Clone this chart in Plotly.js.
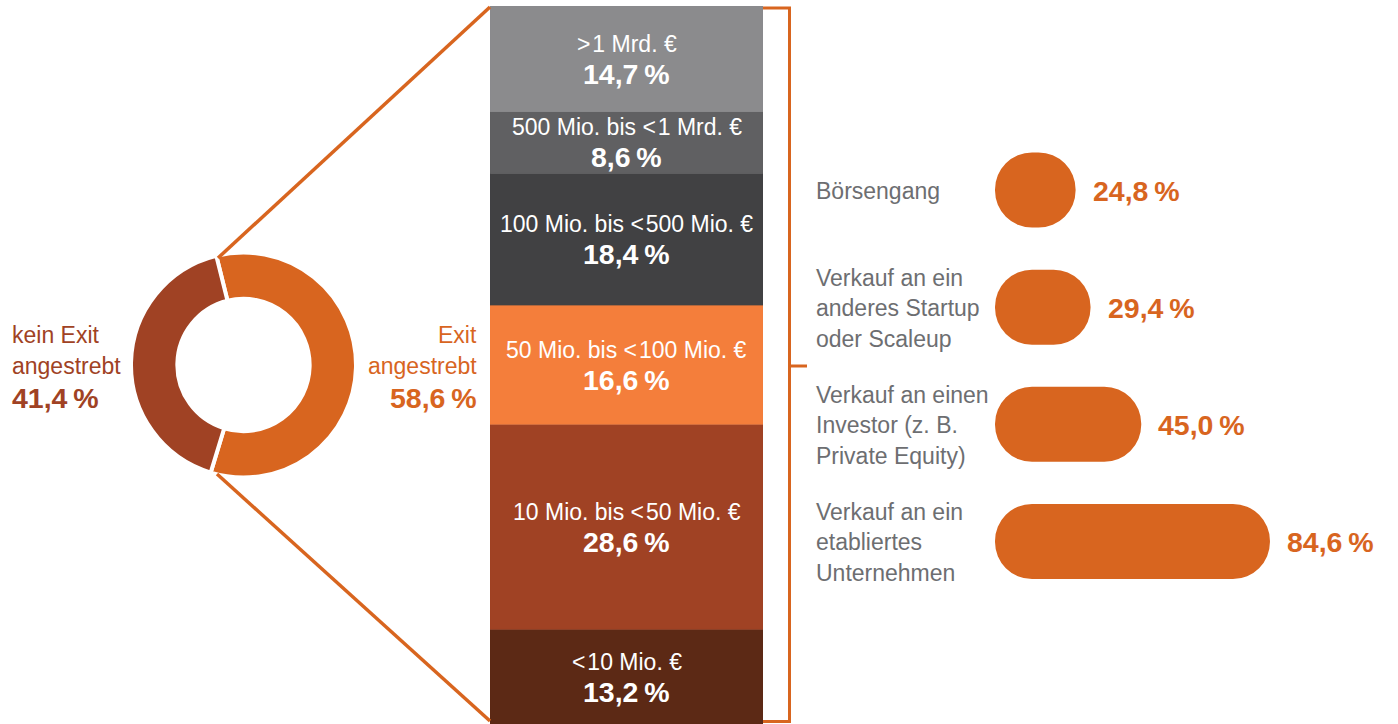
<!DOCTYPE html>
<html>
<head>
<meta charset="utf-8">
<script src="https://cdn.plot.ly/plotly-3.0.1.min.js"></script>
<style>html,body{margin:0;padding:0;background:#fff;overflow:hidden}</style>
</head>
<body>
<div id="chart" style="width:1398px;height:724px"></div>
<script>
// ---------- data ----------
const donutLabels = ['Exit angestrebt', 'kein Exit angestrebt'];
const donutValues = [58.6, 41.4];

const sizeLabels = ['<10 Mio. €', '10 Mio. bis <50 Mio. €', '50 Mio. bis <100 Mio. €', '100 Mio. bis <500 Mio. €', '500 Mio. bis <1 Mrd. €', '>1 Mrd. €'];
const sizeValues = [13.2, 28.6, 16.6, 18.4, 8.6, 14.7];

const routeLabels = ['Börsengang', 'Verkauf an ein<br>anderes Startup<br>oder Scaleup', 'Verkauf an einen<br>Investor (z. B.<br>Private Equity)', 'Verkauf an ein<br>etabliertes<br>Unternehmen'];
const routeValues = [24.8, 29.4, 45.0, 84.6];

// ---------- styles ----------
const W = 1398, H = 724;
const ORANGE = '#d8651f';
const RUST = '#a04224';
const GRAY_TXT = '#6d6e71';
const donutColors = [ORANGE, RUST];
const sizeColors = ['#5c2915', '#a04224', '#f47e3b', '#414143', '#606062', '#8b8b8d'];
const FONT = '"Liberation Sans", Arial, Helvetica, sans-serif';
const LABEL_SIZE = 23, VALUE_SIZE = 28.5;

const px = x => x / W;
const py = y => 1 - y / H;
const esc = s => s.replace(/</g, '&lt;\u200a').replace(/>/g, '&gt;\u200a');
const fmt = v => v.toFixed(1).replace('.', ',') + '\u2009%';

// donut geometry (pixels)
const cx = 243.5, cy = 365, R = 112.5;

// cumulative bases for the stacked column
const bases = [];
sizeValues.reduce((acc, v) => { bases.push(acc); return acc + v; }, 0);
const total = sizeValues.reduce((a, b) => a + b, 0);

const traces = [
  {
    type: 'pie',
    labels: donutLabels,
    values: donutValues,
    sort: false,
    direction: 'clockwise',
    rotation: -14,
    hole: 0.588,
    textinfo: 'none',
    hoverinfo: 'skip',
    showlegend: false,
    marker: { colors: donutColors, line: { color: '#ffffff', width: 4 } },
    domain: { x: [px(cx - R), px(cx + R)], y: [py(cy + R), py(cy - R)] }
  },
  {
    type: 'bar',
    x: sizeValues.map(() => 0),
    y: sizeValues,
    base: bases,
    width: 1,
    xaxis: 'x2', yaxis: 'y2',
    marker: { color: sizeColors, line: { width: 0.6, color: sizeColors } },
    hoverinfo: 'skip',
    showlegend: false
  },
  {
    type: 'bar',
    orientation: 'h',
    y: routeValues.map((v, i) => i),
    x: routeValues,
    base: routeValues.map(() => 0),
    width: 0.641,
    xaxis: 'x3', yaxis: 'y3',
    marker: { color: ORANGE, cornerradius: '50%', line: { width: 0 } },
    hoverinfo: 'skip',
    showlegend: false
  }
];

const annotations = [];
// stacked column labels
sizeLabels.forEach((lab, i) => {
  const mid = bases[i] + sizeValues[i] / 2;
  annotations.push({ xref: 'x2', yref: 'y2', x: 0, y: mid, yshift: 15, text: esc(lab), showarrow: false,
    font: { family: FONT, size: LABEL_SIZE, color: '#ffffff' }, xanchor: 'center', yanchor: 'middle' });
  annotations.push({ xref: 'x2', yref: 'y2', x: 0, y: mid, yshift: -15, text: '<b>' + fmt(sizeValues[i]) + '</b>', showarrow: false,
    font: { family: FONT, size: VALUE_SIZE, color: '#ffffff' }, xanchor: 'center', yanchor: 'middle' });
});

// donut labels
function donutLabel(lines, value, color, x, anchor) {
  lines.forEach((t, j) => {
    annotations.push({ xref: 'paper', yref: 'paper', x: px(x), y: py(cy), yshift: 30 - j * 31, text: t, showarrow: false,
      font: { family: FONT, size: LABEL_SIZE, color: color }, xanchor: anchor, yanchor: 'middle' });
  });
  annotations.push({ xref: 'paper', yref: 'paper', x: px(x), y: py(cy), yshift: -33, text: '<b>' + fmt(value) + '</b>', showarrow: false,
    font: { family: FONT, size: VALUE_SIZE, color: color }, xanchor: anchor, yanchor: 'middle' });
}
donutLabel(['kein Exit', 'angestrebt'], donutValues[1], RUST, 10, 'left');
donutLabel(['Exit', 'angestrebt'], donutValues[0], ORANGE, 479, 'right');

// exit route labels and values
routeLabels.forEach((lab, i) => {
  const lines = lab.split('<br>');
  const n = lines.length;
  lines.forEach((t, j) => {
    annotations.push({ xref: 'paper', yref: 'y3', x: px(814), y: i, yshift: ((n - 1) / 2 - j) * 30.5 - 1, text: t, showarrow: false,
      font: { family: FONT, size: LABEL_SIZE, color: GRAY_TXT }, xanchor: 'left', yanchor: 'middle' });
  });
  annotations.push({ xref: 'x3', yref: 'y3', x: routeValues[i], y: i, xshift: 15, yshift: -1, text: '<b>' + fmt(routeValues[i]) + '</b>', showarrow: false,
    font: { family: FONT, size: VALUE_SIZE, color: ORANGE }, xanchor: 'left', yanchor: 'middle' });
});

const lineStyle = { color: ORANGE, width: 3.5 };
const shapes = [
  // connectors donut -> column
  { type: 'line', xref: 'paper', yref: 'paper', x0: px(218), y0: py(258), x1: px(490), y1: py(7), line: lineStyle },
  { type: 'line', xref: 'paper', yref: 'paper', x0: px(217), y0: py(474), x1: px(490), y1: py(721), line: lineStyle },
  // bracket
  { type: 'path', xref: 'paper', yref: 'paper',
    path: `M ${px(763)} ${py(8)} L ${px(789.5)} ${py(8)} L ${px(789.5)} ${py(721.5)} L ${px(763)} ${py(721.5)}`,
    line: { color: ORANGE, width: 3 } },
  { type: 'line', xref: 'paper', yref: 'paper', x0: px(789.5), y0: py(366), x1: px(807), y1: py(366), line: { color: ORANGE, width: 3 } }
];

const hidden = { visible: false, fixedrange: true };
const layout = {
  width: W, height: H,
  margin: { l: 0, r: 0, t: 0, b: 0, pad: 0 },
  paper_bgcolor: '#ffffff', plot_bgcolor: 'rgba(0,0,0,0)',
  barmode: 'overlay',
  showlegend: false,
  font: { family: FONT },
  xaxis2: Object.assign({ domain: [px(490), px(763)], range: [-0.5, 0.5], anchor: 'y2' }, hidden),
  yaxis2: Object.assign({ domain: [0, py(6)], range: [0, total], anchor: 'x2' }, hidden),
  xaxis3: Object.assign({ domain: [px(995), px(1320)], range: [0, 100], anchor: 'y3' }, hidden),
  yaxis3: Object.assign({ domain: [py(600), py(131.5)], range: [routeValues.length - 0.5, -0.5], anchor: 'x3' }, hidden),
  annotations: annotations,
  shapes: shapes
};

Plotly.newPlot('chart', traces, layout, { displayModeBar: false, staticPlot: true });
</script>
</body>
</html>
